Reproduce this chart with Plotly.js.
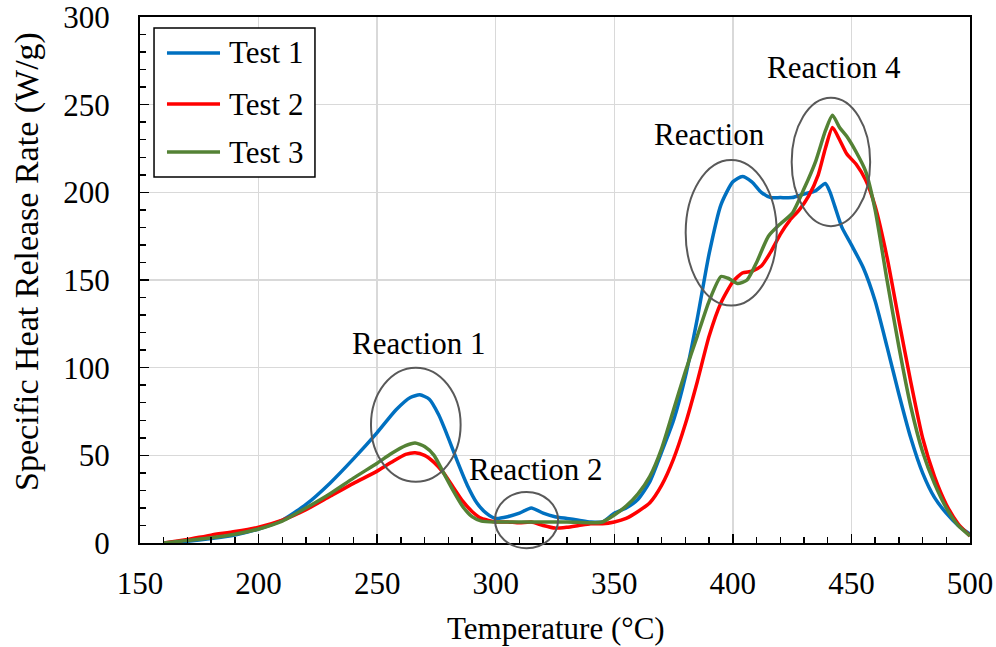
<!DOCTYPE html>
<html>
<head>
<meta charset="utf-8">
<script src="https://cdn.plot.ly/plotly-3.0.1.min.js"></script>
<style>html,body{margin:0;padding:0;background:#fff;}#chart{width:996px;height:647px;}</style>
</head>
<body>
<div id="chart"></div>
<script>
// Test 1 (blue)
const t1Temp = [160,170,180,190,200,210,220,230,240,250,258,264,268,272,276,280,284,288,292,296,300,305,310,315,320,325,330,335,340,345,350,355,360,365,370,375,380,385,390,395,400,404,408,412,416,420,425,430,435,439,441,443,446,450,455,460,465,470,475,480,485,490,495,500];
const t1Val  = [0,1,2.5,4.5,8,13,22,34,48,63,76,83,84.5,82,73,60,46,33,23,17,14,15,17,20,17,15,14,13,12,12,17,20,25,35,52,70,95,128,165,193,206,209,206,200,197,197,197,199,201,205,200,192,180,170,157,138,112,85,60,40,26,17,10,5];
// Test 2 (red)
const t2Temp = [160,170,180,190,200,210,220,230,240,250,256,262,266,270,274,278,282,286,290,294,300,305,310,315,320,325,330,335,340,345,350,355,360,365,370,375,380,385,390,395,400,404,408,412,416,420,424,428,432,436,439,442,445,448,452,456,460,465,470,475,480,485,490,495,500];
const t2Val  = [0,2,4.5,6.5,9,13,19,26.5,34,41,46,50.5,51.5,50,46,40,32,24,18,14,12,12,11.5,12,10,8.5,9,10,11,11,12,14,18,23,33,48,68,92,118,137,149,154,155,158,166,176,184,190,198,210,225,237,230,222,216,207,192,163,127,92,60,38,22,11,4];
// Test 3 (green)
const t3Temp = [160,170,180,190,200,210,220,230,240,250,256,262,266,270,274,278,282,286,290,294,300,310,320,330,340,345,350,355,360,365,370,375,380,385,390,395,398,402,406,410,415,420,425,430,435,439,442,445,448,452,456,460,465,470,475,480,485,490,495,500];
const t3Val  = [0,1.5,3,5,8,12.5,20,28,37,45.5,51,55.5,57,55,50,40,30,21,15,12.5,12,12,12,12,11.5,12,16,21,28,38,54,76,98,118,138,152,151,148,150,160,175,182,188,202,218,235,244,237,232,223,212,190,150,112,78,52,34,20,10,4];

const seriesNames = ['Test 1','Test 2','Test 3'];
const seriesColors = ['#0070C0','#FF0000','#548235'];

const labels = ['Reaction 1','Reaction 2','Reaction','Reaction 4'];
const labelT = [267.6,316.6,390,442.7];
const labelV = [114,41.7,233,271];

const xTicks = [150,200,250,300,350,400,450,500];
const yTicks = [0,50,100,150,200,250,300];

const FONT = 'Liberation Serif';

const data = [[t1Temp,t1Val],[t2Temp,t2Val],[t3Temp,t3Val]].map((s,i)=>({
  x: s[0], y: s[1], type:'scatter', mode:'lines', name: seriesNames[i], showlegend:false,
  line:{color: seriesColors[i], width:3.5, shape:'spline', smoothing:0.6}
}));

const ellipse = (x0,x1,y0,y1,yref)=>({type:'circle', xref:'x', yref: yref||'y', x0, x1, y0, y1,
  line:{color:'#595959', width:2}, fillcolor:'rgba(0,0,0,0)', layer:'above'});

// custom legend (box, sample lines, labels) in plot-domain coordinates
const legRowY = [0.9316, 0.8346, 0.7433];
const legendShapes = [{type:'rect', xref:'paper', yref:'paper', x0:0.0169, x1:0.2108, y0:0.6958, y1:0.979,
  line:{color:'#000', width:1.5}, fillcolor:'#fff', layer:'above'}].concat(
  seriesNames.map((n,i)=>({type:'line', xref:'paper', yref:'paper', x0:0.0325, x1:0.0964, y0:legRowY[i], y1:legRowY[i],
    line:{color:seriesColors[i], width:3.5}, layer:'above'})));
const legendTexts = seriesNames.map((n,i)=>({text:n, xref:'paper', yref:'paper', x:0.1048, y:legRowY[i],
  xanchor:'left', yanchor:'middle', showarrow:false, font:{size:31, family:FONT, color:'#000'}}));

const layout = {
  width:996, height:647,
  margin:{l:140, r:26, t:17, b:104},
  paper_bgcolor:'#fff', plot_bgcolor:'#fff',
  font:{family:FONT, color:'#000', size:29},
  showlegend:false,
  xaxis:{range:[150,500], tickvals:xTicks, ticktext:xTicks.map(String),
    showgrid:true, gridcolor:'#d9d9d9', gridwidth:1.5,
    showline:true, linecolor:'#000', linewidth:2, mirror:true,
    ticks:'inside', ticklen:9, tickwidth:1.5, tickcolor:'#000',
    minor:{dtick:10, ticks:'inside', ticklen:6, tickwidth:1.5, tickcolor:'#000', showgrid:false},
    tickfont:{size:31, family:FONT, color:'#000'}, ticklabelstandoff:12, ticklabeloverflow:'allow',
    zeroline:false, fixedrange:true},
  yaxis:{range:[0,300], tickvals:yTicks, ticktext:yTicks.map(String),
    showgrid:true, gridcolor:'#d9d9d9', gridwidth:1.5,
    showline:true, linecolor:'#000', linewidth:2, mirror:true,
    ticks:'inside', ticklen:9, tickwidth:1.5, tickcolor:'#000',
    minor:{dtick:10, ticks:'inside', ticklen:6, tickwidth:1.5, tickcolor:'#000', showgrid:false},
    tickfont:{size:31, family:FONT, color:'#000'}, ticklabelstandoff:22, ticklabeloverflow:'allow',
    zeroline:false, fixedrange:true},
  shapes:[
    ellipse(247.4,285.2,34.9,100),
    ellipse(299.7,326.3,-0.01,0.097,'y domain'),
    ellipse(380.1,418.5,135.4,218.5),
    ellipse(424.8,457.9,180.7,254)
  ].concat(legendShapes),
  annotations: labels.map((t,i)=>({x:labelT[i], y:labelV[i], xref:'x', yref:'y', text:t,
      showarrow:false, font:{size:31, family:FONT, color:'#000'}})).concat([
    {text:'Temperature (°C)', xref:'paper', yref:'paper', x:0.501, y:-0.1616, xanchor:'center', yanchor:'middle',
      showarrow:false, font:{size:31, family:FONT, color:'#000'}},
    {text:'Specific Heat Release Rate (W/g)', xref:'paper', yref:'paper', x:-0.137, y:0.535, xanchor:'center', yanchor:'middle',
      textangle:-90, showarrow:false, font:{size:34, family:FONT, color:'#000'}}
  ]).concat(legendTexts)
};

Plotly.newPlot('chart', data, layout, {staticPlot:true, displayModeBar:false});
</script>
</body>
</html>
